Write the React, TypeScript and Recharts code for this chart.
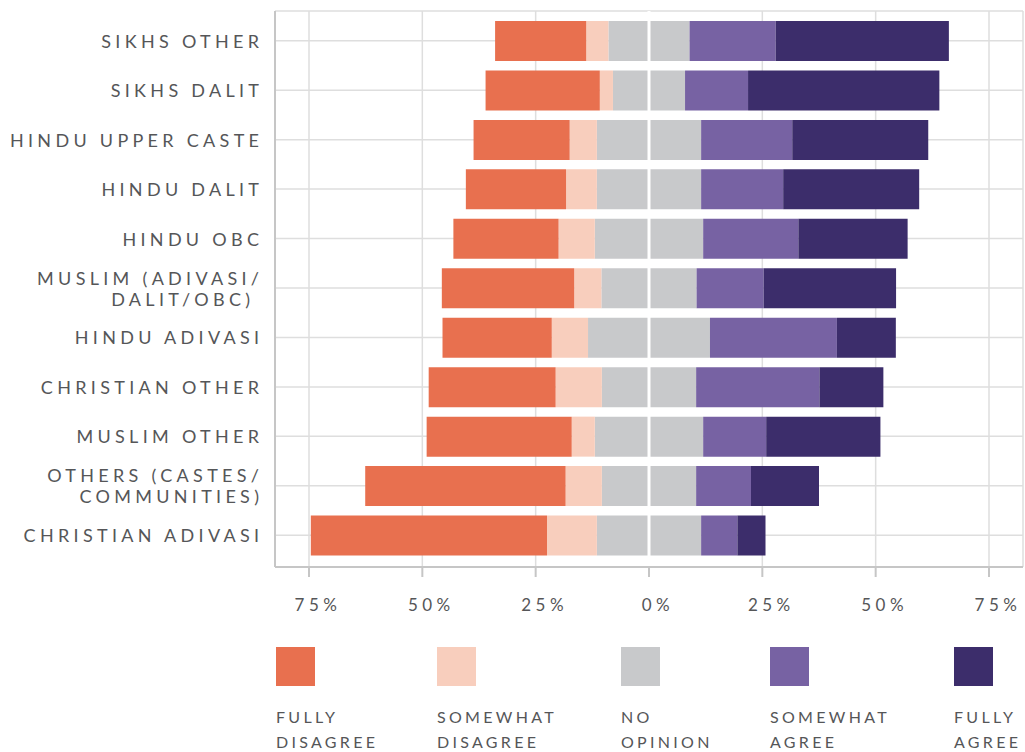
import { BarChart, Bar, XAxis, YAxis, CartesianGrid, ReferenceLine } from "recharts";

const categories = [
  "SIKHS OTHER",
  "SIKHS DALIT",
  "HINDU UPPER CASTE",
  "HINDU DALIT",
  "HINDU OBC",
  "MUSLIM (ADIVASI/\nDALIT/OBC)\u00a0",
  "HINDU ADIVASI",
  "CHRISTIAN OTHER",
  "MUSLIM OTHER",
  "OTHERS (CASTES/\nCOMMUNITIES)",
  "CHRISTIAN ADIVASI",
];

// shares in percent
const fullyDisagree = [20.1, 25.2, 21.2, 22.1, 23.2, 29.2, 24.1, 28.0, 32.0, 44.2, 52.1];
const somewhatDisagree = [4.9, 2.9, 6.0, 6.8, 8.0, 6.0, 8.0, 10.2, 5.1, 8.0, 11.0];
const noOpinion = [17.9, 15.9, 23.0, 23.0, 23.9, 21.0, 26.9, 20.8, 23.9, 20.8, 23.0];
const somewhatAgree = [19.0, 13.9, 20.1, 18.1, 21.0, 14.8, 28.0, 27.2, 13.9, 12.1, 8.0];
const fullyAgree = [38.2, 42.2, 30.0, 30.0, 24.1, 29.2, 13.0, 14.1, 25.2, 15.0, 6.2];

const xTicks = [-75, -50, -25, 0, 25, 50, 75];

const COLORS = {
  fd: "#e8704f",
  sd: "#f8cebd",
  no: "#c8c9cb",
  sa: "#7762a3",
  fa: "#3c2d6b",
};

const legendItems = [
  { lines: ["FULLY", "DISAGREE"], color: COLORS.fd },
  { lines: ["SOMEWHAT", "DISAGREE"], color: COLORS.sd },
  { lines: ["NO", "OPINION"], color: COLORS.no },
  { lines: ["SOMEWHAT", "AGREE"], color: COLORS.sa },
  { lines: ["FULLY", "AGREE"], color: COLORS.fa },
];

const data = categories.map((name, i) => ({
  name,
  noNeg: -noOpinion[i] / 2,
  sdNeg: -somewhatDisagree[i],
  fdNeg: -fullyDisagree[i],
  noPos: noOpinion[i] / 2,
  sa: somewhatAgree[i],
  fa: fullyAgree[i],
}));

const FONT = "Lato, 'Open Sans', sans-serif";
const TEXT = "#555658";
const GRID = "#dedede";
const AXIS = "#c6c6c6";
const LS = 4.3;

function CategoryTick(props: any) {
  const { x, y, payload } = props;
  const lines = String(payload.value).split("\n");
  const lineH = 21;
  const y0 = y - ((lines.length - 1) * lineH) / 2;
  return (
    <text
      x={x + LS - 1}
      y={y0}
      textAnchor="end"
      dominantBaseline="central"
      fill={TEXT}
      fontSize={18}
      fontFamily={FONT}
      letterSpacing={LS}
      style={{ whiteSpace: "pre" }}
    >
      {lines.map((l, i) => (
        <tspan key={i} x={x + LS - 1} dy={i === 0 ? 0 : lineH}>
          {l}
        </tspan>
      ))}
    </text>
  );
}

function PercentTick(props: any) {
  const { x, y, payload } = props;
  return (
    <text
      x={x + 9}
      y={y}
      dy={32}
      textAnchor="middle"
      fill={TEXT}
      fontSize={17}
      fontFamily={FONT}
      letterSpacing={4.5}
    >
      {Math.abs(payload.value) + "%"}
    </text>
  );
}

function Legend() {
  const lefts = [276, 437, 621, 770, 954];
  return (
    <>
      {legendItems.map((item, i) => (
        <div key={i} style={{ position: "absolute", left: lefts[i], top: 647 }}>
          <div style={{ width: 39, height: 39, background: item.color }} />
          <div
            style={{
              marginTop: 18,
              fontFamily: FONT,
              fontSize: 16,
              lineHeight: "25px",
              letterSpacing: 3.3,
              color: TEXT,
              whiteSpace: "nowrap",
            }}
          >
            {item.lines.map((l) => (
              <div key={l}>{l}</div>
            ))}
          </div>
        </div>
      ))}
    </>
  );
}

export default function App() {
  return (
    <div
      style={{
        position: "absolute",
        left: 0,
        top: 0,
        width: 1025,
        height: 752,
        background: "#fff",
        overflow: "hidden",
      }}
    >
      <BarChart
        width={1025}
        height={640}
        data={data}
        layout="vertical"
        stackOffset="sign"
        barSize={40}
        margin={{ top: 11, right: 2, bottom: 0, left: 0 }}
      >
        <CartesianGrid stroke={GRID} strokeWidth={1.5} />
        <YAxis
          type="category"
          dataKey="name"
          width={275}
          tickSize={0}
          tickMargin={15}
          tickLine={false}
          axisLine={{ stroke: AXIS, strokeWidth: 2 }}
          tick={<CategoryTick />}
          padding={{ top: 5, bottom: 7 }}
          interval={0}
        />
        <Bar dataKey="noNeg" stackId="s" fill={COLORS.no} isAnimationActive={false} />
        <Bar dataKey="sdNeg" stackId="s" fill={COLORS.sd} isAnimationActive={false} />
        <Bar dataKey="fdNeg" stackId="s" fill={COLORS.fd} isAnimationActive={false} />
        <Bar dataKey="noPos" stackId="s" fill={COLORS.no} isAnimationActive={false} />
        <Bar dataKey="sa" stackId="s" fill={COLORS.sa} isAnimationActive={false} />
        <Bar dataKey="fa" stackId="s" fill={COLORS.fa} isAnimationActive={false} />
        <ReferenceLine x={0} stroke="#ffffff" strokeWidth={3} />
        <XAxis
          type="number"
          domain={[-82.5, 82.5]}
          ticks={xTicks}
          allowDataOverflow
          height={73}
          tickSize={10}
          tickLine={{ stroke: AXIS, strokeWidth: 2 }}
          axisLine={{ stroke: AXIS, strokeWidth: 2 }}
          tick={<PercentTick />}
        />
      </BarChart>
      <Legend />
    </div>
  );
}
